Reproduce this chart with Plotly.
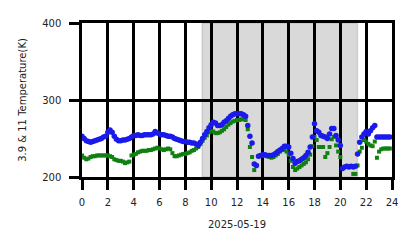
import plotly.graph_objects as go

# 10-minute samples, hours 0..24
hours = [i / 6 for i in range(144)]

bt39 = [
    253, 250, 247, 246, 245, 246,
    247, 248, 249, 250, 252, 253,
    258, 261, 258, 253, 249, 247,
    247, 248, 248, 249, 250, 252,
    254, 254, 255, 254, 254, 255,
    255, 255, 255, 256, 259, 257,
    256, 255, 255, 254, 253, 253,
    252, 250, 249, 248, 247, 246,
    246, 245, 245, 244, 244, 243,
    241, 245, 250, 255, 259, 264,
    268, 271, 270, 267, 267, 268,
    271, 273, 276, 279, 281, 282,
    282, 282, 282, 281, 279, 267,
    253, 244, 217, 215, 227, 228,
    229, 229, 228, 228, 228, 229,
    231, 233, 235, 237, 240, 240,
    239, 231, 224, 218, 220, 221,
    223, 225, 228, 232, 239, 252,
    269, 260, 258, 254, 253, 252,
    250, 256, 263, 263, 254, 248,
    241, 211, 213, 214, 213, 214,
    213, 214, 230, 245, 252, 256,
    259, 256, 260, 264, 267, 252,
    252, 252, 252, 252, 252, 252,
]

bt11 = [
    228, 225, 223, 224, 226, 227,
    227, 228, 228, 228, 228, 228,
    228, 227, 226, 223, 222, 221,
    221, 220, 218, 219, 220, 228,
    229, 230, 232, 233, 234, 234,
    234, 235, 235, 236, 237, 238,
    237, 236, 235, 236, 237, 236,
    231, 227, 227, 228, 229, 230,
    230, 231, 232, 234, 235, 237,
    239, 243, 247, 251, 254, 258,
    260, 259, 257, 257, 258, 260,
    262, 265, 268, 270, 272, 273,
    274, 274, 275, 275, 274, 262,
    239, 226, 209, 215, 227, 228,
    228, 228, 227, 226, 225, 226,
    228, 230, 233, 235, 235, 233,
    229, 221, 213, 209, 211, 213,
    215, 217, 219, 223, 229, 240,
    252, 248, 239, 239, 239, 226,
    231, 239, 249, 252, 241, 233,
    226, 195, 195, 195, 195, 195,
    204, 204, 215, 233, 238, 248,
    246, 243, 241, 240, 246, 225,
    233, 236, 237, 237, 237, 237,
]

night_start = 9.3
night_end = 21.33
x_ticks = list(range(0, 25, 2))
y_ticks = [200, 300, 400]
x_title = "2025-05-19"
y_title = "3.9 & 11 Temperature(K)"

fig = go.Figure()
fig.add_trace(go.Scatter(
    x=hours, y=bt11, mode="markers",
    marker=dict(symbol="square", size=4, color="#108010", line=dict(width=0)),
    showlegend=False,
))
fig.add_trace(go.Scatter(
    x=hours, y=bt39, mode="markers",
    marker=dict(symbol="circle", size=5.5, color="#1a1aeb", line=dict(width=0)),
    showlegend=False,
))

fig.add_shape(type="rect", xref="x", yref="y", x0=night_start, x1=night_end,
              y0=200, y1=400, fillcolor="rgba(128,128,128,0.3)",
              line=dict(width=1.5, color="rgba(128,128,128,0.25)"), layer="below")

tf = dict(family="DejaVu Sans", size=10, color="#222222")
fig.update_layout(
    width=418, height=248,
    margin=dict(l=82, r=26, t=23, b=71),
    paper_bgcolor="white", plot_bgcolor="white",
    font=tf,
    xaxis=dict(
        range=[0, 24], tickvals=x_ticks, ticktext=[str(v) for v in x_ticks],
        showgrid=True, gridcolor="black", gridwidth=2.5,
        showline=True, linecolor="black", linewidth=2.5, mirror=True,
        zeroline=False, ticks="outside", ticklen=10, tickwidth=2.5, tickcolor="black",
        ticklabelstandoff=4,
        tickfont=tf,
        title=dict(text=x_title, font=tf, standoff=15),
    ),
    yaxis=dict(
        range=[200, 400], tickvals=y_ticks, ticktext=[str(v) for v in y_ticks],
        showgrid=True, gridcolor="black", gridwidth=2.5,
        showline=True, linecolor="black", linewidth=2.5, mirror=True,
        zeroline=False, ticks="outside", ticklen=10, tickwidth=2.5, tickcolor="black",
        ticklabelstandoff=6,
        tickfont=tf,
        title=dict(text=y_title, font=tf, standoff=14),
    ),
)

fig.write_html("out.html")
